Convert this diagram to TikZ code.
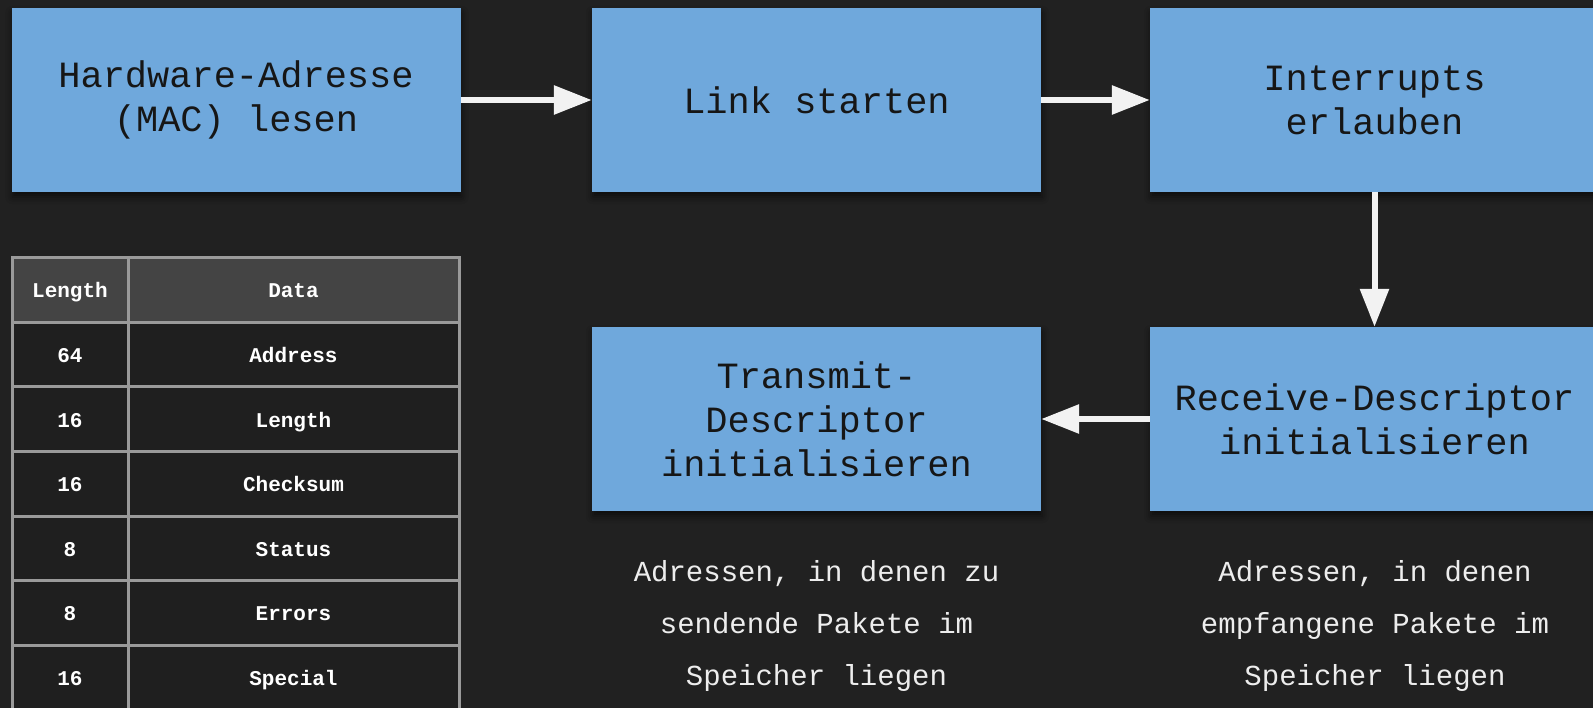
\documentclass[tikz,border=0pt]{standalone}
\usepackage{fontspec}
\setmainfont{Liberation Mono}
\usetikzlibrary{arrows.meta,shadows.blur}

\definecolor{bg}{HTML}{212121}
\definecolor{boxblue}{HTML}{6FA8DC}
\definecolor{ink}{HTML}{161616}
\definecolor{arrowwhite}{HTML}{F2F2F2}
\definecolor{gridgray}{HTML}{9A9A9A}
\definecolor{headfill}{HTML}{444444}
\definecolor{cellfill}{HTML}{1F1F1F}
\definecolor{captext}{HTML}{EDEDED}

\begin{document}
\begin{tikzpicture}[x=1pt,y=1pt,
  stepbox/.style={rectangle, fill=boxblue, minimum width=449pt, minimum height=184pt,
    inner sep=0pt, align=center, text=ink, font=\fontsize{37}{44}\selectfont,
    blur shadow={shadow xshift=1pt, shadow yshift=-5pt, shadow blur radius=7pt, shadow opacity=60}},
  flow/.style={draw=arrowwhite, line width=6pt, -{Triangle[length=38pt,width=28pt]}},
  cell/.style={rectangle, draw=gridgray, line width=3pt, inner sep=0pt, text=white,
    text height=19pt, text depth=3pt,
    font=\fontsize{21}{21}\bfseries\selectfont},
  headcell/.style={cell, fill=headfill, minimum height=65pt},
  bodycell/.style={cell, fill=cellfill, minimum height=64.5pt},
  lencol/.style={minimum width=116pt},
  datcol/.style={minimum width=331pt},
  caption/.style={align=center, text=captext, font=\fontsize{29}{52}\selectfont}
]
% canvas
\useasboundingbox (0,0) rectangle (1593,-708);
\fill[bg] (0,0) rectangle (1593,-708);

% process steps
\node[stepbox] (mac)  at (236,-100)    {Hardware-Adresse\\(MAC) lesen};
\node[stepbox] (link) at (816.5,-100)  {Link starten};
\node[stepbox] (irq)  at (1374.5,-100) {Interrupts\\erlauben};
\node[stepbox] (rx)   at (1374.5,-419) {Receive-Descriptor\\initialisieren};
\node[stepbox] (tx)   at (816.5,-419)  {Transmit-\\Descriptor\\initialisieren};

% flow
\draw[flow] (mac.east) -- (link.west);
\draw[flow] (link.east) -- (irq.west);
\draw[flow] (irq.south) -- (rx.north);
\draw[flow] (rx.west) -- (tx.east);

% notes below the descriptor steps
\node[caption] (txnote) at (816.5,-626) {Adressen, in denen zu\\sendende Pakete im\\Speicher liegen};
\node[caption] (rxnote) at (1375,-626)  {Adressen, in denen\\empfangene Pakete im\\Speicher liegen};

% descriptor layout table
\node[headcell, lencol] (hL) at (70,-290) {Length};
\node[headcell, datcol] (hD) at (293.5,-290)  {Data};
\foreach \len/\dat [count=\i] in {64/Address,16/Length,16/Checksum,8/Status,8/Errors,16/Special}{
  \node[bodycell, lencol] (l\i) at (70,{-(322.5+64.5*(\i-0.5))}) {\len};
  \node[bodycell, datcol] (d\i) at (293.5,{-(322.5+64.5*(\i-0.5))})  {\dat};
}
\end{tikzpicture}
\end{document}
